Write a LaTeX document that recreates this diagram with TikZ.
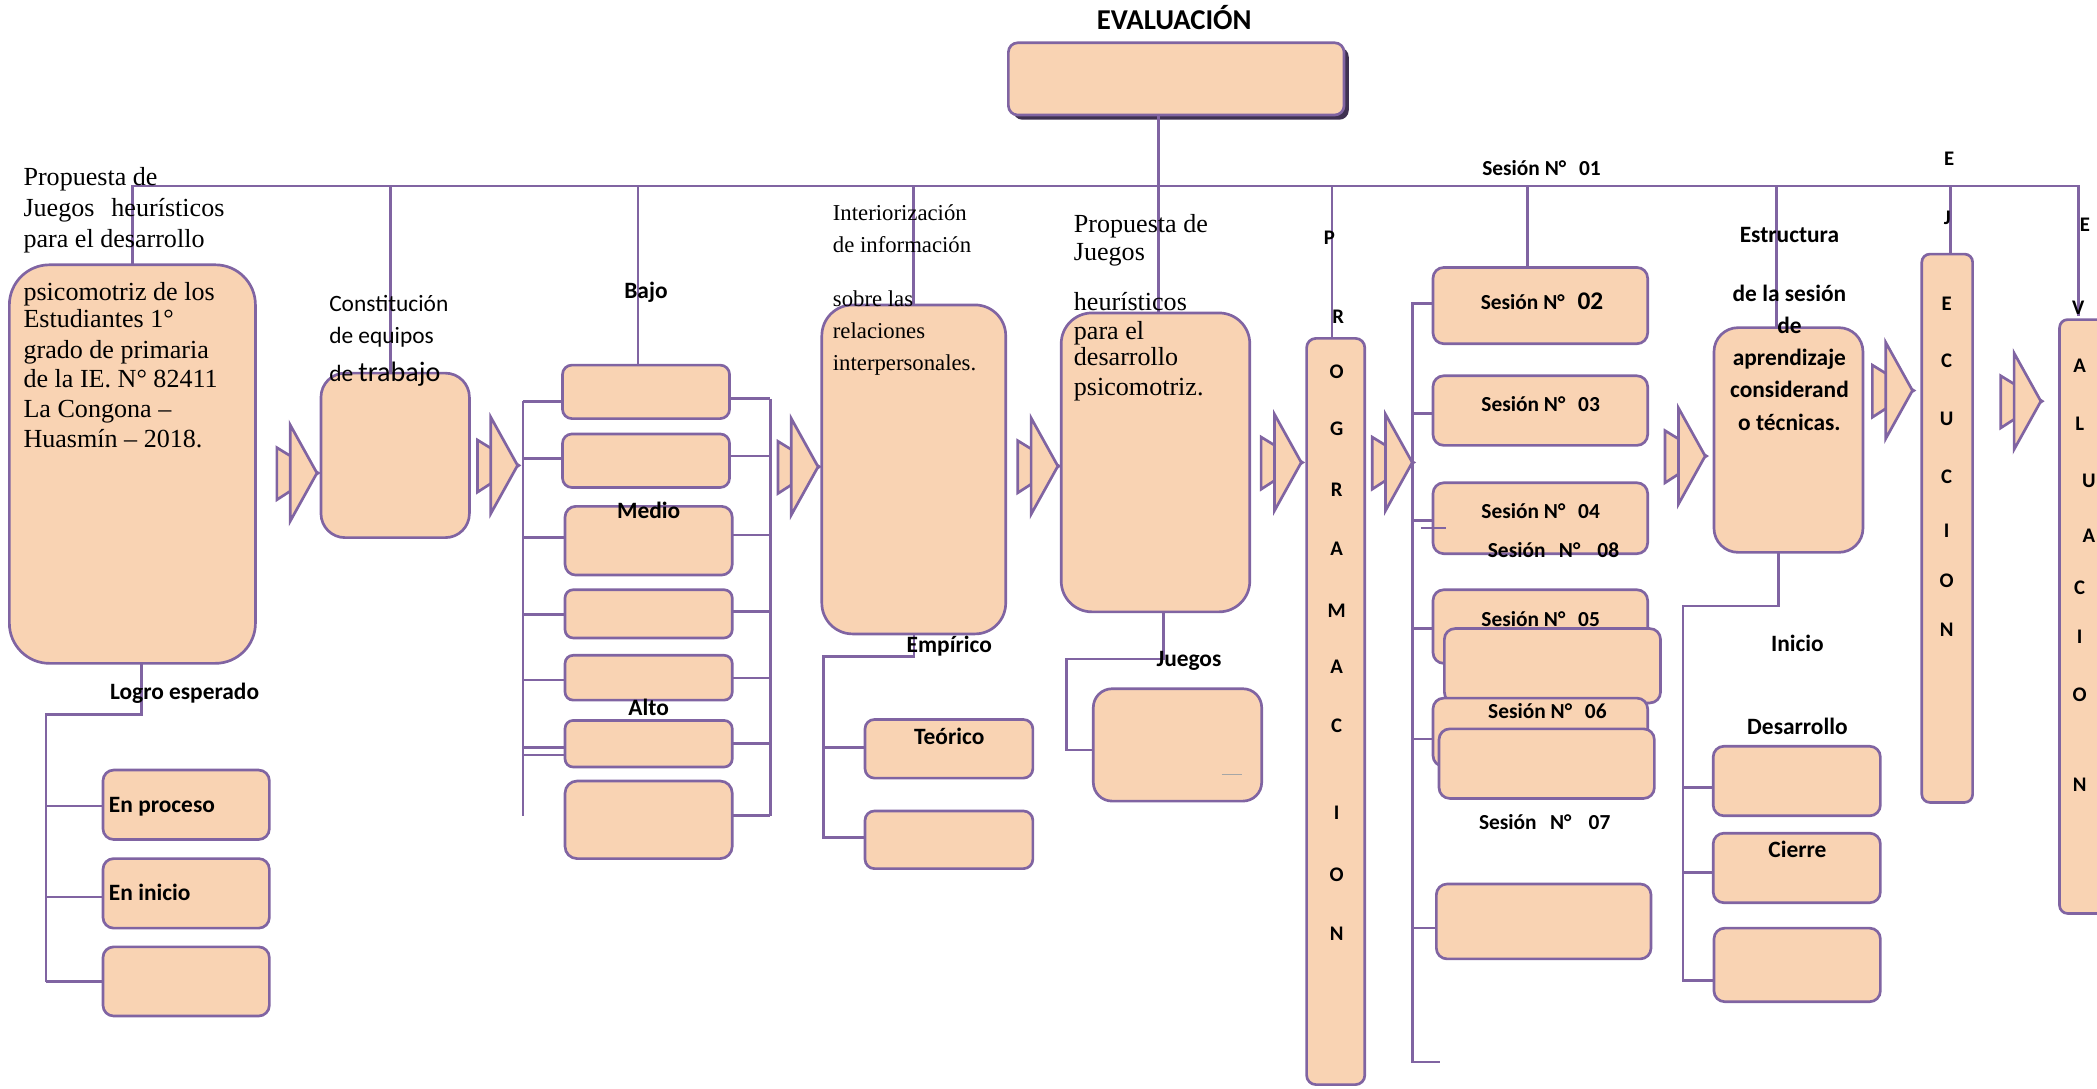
\documentclass[tikz,border=0pt]{standalone}
\usepackage{fontspec}
\setmainfont{Liberation Serif}
\newfontfamily\cb{Carlito}
\definecolor{pur}{HTML}{8064A2}
\definecolor{peach}{HTML}{F9D3B3}
\definecolor{shad}{HTML}{3F3151}
\tikzset{
 ln/.style={draw=pur, line width=2pt},
 thinln/.style={draw=pur, line width=1pt},
 box/.style={draw=pur, fill=peach, line width=2pt, inner sep=0pt, outer sep=0pt},
 lab/.style={inner sep=0pt, anchor=base, font=\cb\bfseries\fontsize{17.5}{20}\selectfont},
 ses/.style={inner sep=0pt, anchor=base, font=\cb\bfseries\fontsize{16}{18}\selectfont},
 let/.style={inner sep=0pt, anchor=base, font=\cb\bfseries\fontsize{15.5}{18}\selectfont},
 serA/.style={inner sep=0pt, anchor=base west, font=\fontsize{19.5}{22}\selectfont},
 serB/.style={inner sep=0pt, anchor=base west, font=\fontsize{17}{20}\selectfont},
 calr/.style={inner sep=0pt, anchor=base west, font=\cb\fontsize{17.5}{20}\selectfont},
 arrowshape/.style={draw=pur, fill=peach, line width=2pt, line join=miter}
}
\newcommand\rbox[6]{\pgfmathsetmacro\rbw{#4-#2}\pgfmathsetmacro\rbh{#5-#3}%
 \node[box,anchor=north west,minimum width=\rbw pt,minimum height=\rbh pt,rounded corners=#6pt] (#1) at (#2,#3) {};}
\newcommand\arr[2]{%
 \path[arrowshape] (#1-10,#2-19) -- (#1-10,#2+20) -- (#1+21,#2) -- cycle;
 \path[arrowshape] (#1,#2-36) -- (#1,#2+36) -- (#1+20,#2) -- cycle;}
\begin{document}
\begin{tikzpicture}[x=1pt,y=-1pt]
\useasboundingbox (0,0) rectangle (1568,814);
\clip (0,0) rectangle (1568,814);
% ---------- boxes ----------
\fill[shad, rounded corners=7pt] (757.5,35.5) rectangle (1008.5,89.5);
\rbox{ev}{754}{32}{1005}{86}{7}
\rbox{box1}{7}{198}{191}{496}{30}
\rbox{box2}{240}{279}{351}{402}{18}
\rbox{c1}{420.6}{273}{545.5}{313}{7}
\rbox{c2}{420.6}{324.5}{545.5}{364.5}{7}
\rbox{c3}{422.5}{378.6}{547.5}{430}{8}
\rbox{c4}{422.5}{441}{547.5}{477}{6}
\rbox{c5}{422.5}{490}{547.5}{523.5}{6}
\rbox{c6}{422.5}{538.7}{547.5}{573.5}{6}
\rbox{c7}{422.5}{584}{547.5}{642}{9}
\rbox{p1}{77}{575.8}{201.4}{627.7}{8}
\rbox{p2}{77}{642}{201.4}{694}{8}
\rbox{p3}{77}{708}{201.4}{759.7}{8}
\rbox{intb}{614.5}{228}{752}{474}{23}
\rbox{te1}{646.8}{538}{772.3}{581.8}{7}
\rbox{te2}{646.8}{606.4}{772.3}{649.5}{7}
\rbox{prop}{793.5}{234}{934.5}{457.5}{23}
\rbox{jb}{817.5}{515}{943.4}{599}{14}
\rbox{prog}{977}{253}{1020.5}{811}{7}
\rbox{s02}{1071.5}{200}{1232}{257}{8}
\rbox{s03}{1071.5}{281}{1232}{333}{8}
\rbox{s04}{1071.5}{361}{1232}{414}{8}
\rbox{s05}{1071.5}{441}{1232}{496}{8}
\rbox{sA}{1080}{470}{1241.6}{525.6}{8}
\rbox{s06}{1071.5}{522}{1232}{573}{8}
\rbox{sB}{1076}{545}{1237}{597}{8}
\rbox{s07}{1074}{661}{1234.5}{717}{8}
\rbox{est}{1281.6}{245}{1393}{413}{18}
\rbox{d1}{1281}{558}{1406}{610}{8}
\rbox{d2}{1281}{623}{1406}{675}{8}
\rbox{d3}{1281.6}{694}{1406}{749}{8}
\rbox{ec}{1437}{190}{1475}{600}{6}
\rbox{evr}{1540}{239}{1585}{683}{6}
% ---------- arrows ----------
\arr{217}{353.7}
\arr{367}{348}
\arr{591.7}{349}
\arr{771}{348.5}
\arr{953}{345.8}
\arr{1036}{345.8}
\arr{1255}{341}
\arr{1410}{292}
\arr{1506}{300}
% ---------- connectors ----------
\coordinate (tl) at (99,139);
\coordinate (tr) at (1554,139);
\coordinate (rv) at (1554,236);
\draw[ln] (box1.north) -- (tl) -- (tr) -- (rv);
\draw[ln] (292,139) -- (292,0 |- box2.north);
\draw[ln] (477,139) -- (477,0 |- c1.north);
\draw[ln] (683,139) -- (683,0 |- intb.north);
\draw[ln] (866,0 |- ev.south) -- (866,0 |- prop.north);
\draw[ln] (996,139) -- (996,0 |- prog.north);
\draw[ln] (1142,139) -- (1142,0 |- s02.north);
\draw[ln] (1328.5,139) -- (1328.5,0 |- est.north);
\draw[ln] (1458.5,139) -- (1458.5,0 |- ec.north);
% box1 branch
\coordinate (b1a) at (105.7,534);
\coordinate (b1b) at (34.3,734);
\draw[ln] (b1a |- box1.south) -- (b1a) -| (b1b);
\draw[ln] (34.3,602.7) -- (p1.west |- 0,602.7);
\draw[ln] (34.3,670.7) -- (p2.west |- 0,670.7);
\draw[ln] (b1b) -- (p3.west |- b1b);
% column 3 buses
\coordinate (lbt) at (391,300);
\coordinate (lbb) at (391,610);
\coordinate (rbt) at (576,298);
\coordinate (rbb) at (576,610);
\draw[ln] (lbt) -- (lbb);
\draw[ln] (rbt) -- (rbb);
\foreach \n/\y in {c1/300,c2/343,c3/402,c4/459.5,c5/508.5,c6/558.8}
  \draw[ln] (391,\y) -- (\n.west |- 0,\y);
\draw[thinln] (391,564.5) -- (c6.west |- 0,564.5);
\foreach \n/\y in {c1/298,c2/341,c3/400,c4/457,c5/507,c6/556,c7/610}
  \draw[ln] (\n.east |- 0,\y) -- (576,\y);
% column 4 branch
\coordinate (i4a) at (683.5,491);
\coordinate (i4b) at (615.5,626);
\draw[ln] (i4a |- intb.south) -- (i4a) -| (i4b) -- (te2.west |- i4b);
\draw[ln] (615.5,558.8) -- (te1.west |- 0,558.8);
% juegos branch
\coordinate (j5a) at (869.8,492.8);
\coordinate (j5b) at (797.6,560.8);
\draw[ln] (j5a |- prop.south) -- (j5a) -| (j5b) -- (jb.west |- j5b);
\draw[draw=gray!70, line width=1pt] (913.5,579) -- (928.4,579);
% sessions bus
\coordinate (sbt) at (1056,227);
\coordinate (sbb) at (1056,794);
\draw[ln] (s02.west |- sbt) -- (sbt) -- (sbb) -- (1077,794);
\foreach \n/\y in {s03/309,s04/389,s05/470,s06/552.6,s07/694}
  \draw[ln] (1056,\y) -- (\n.west |- 0,\y);
\draw[draw=pur, line width=1.5pt] (1062.5,395) -- (1081,395);
% estructura branch
\coordinate (e7a) at (1330,453);
\coordinate (e7b) at (1258.5,733);
\draw[ln] (e7a |- est.south) -- (e7a) -| (e7b) -- (d3.west |- e7b);
\draw[ln] (1258.5,588.6) -- (d1.west |- 0,588.6);
\draw[ln] (1258.5,652.5) -- (d2.west |- 0,652.5);
% ---------- texts ----------
\node[lab, font=\cb\bfseries\fontsize{21.5}{24}\selectfont] (tEv) at (878,22) {EVALUACIÓN};
\node[serA] (tb1) at (17.4,139) {Propuesta de};
\node[serA] (tb2) at (17.4,162) {Juegos\hspace{0.4em} heurísticos};
\node[serA] (tb3) at (17.4,185) {para el desarrollo};
\node[serA] (tb4) at (17.4,224.5) {psicomotriz de los};
\node[serA] (tb5) at (17.4,245) {Estudiantes 1°};
\node[serA] (tb6) at (17.4,268) {grado de primaria};
\node[serA] (tb7) at (17.4,290) {de la IE. N° 82411};
\node[serA] (tb8) at (17.4,312.5) {La Congona –};
\node[serA] (tb9) at (17.4,334.5) {Huasmín – 2018.};
\node[calr] (tc1) at (246,233) {Constitución};
\node[calr] (tc2) at (246,257) {de equipos};
\node[calr] (tc3) at (246,285) {de {\fontsize{21}{22}\selectfont trabajo}};
\node[lab] (tBajo) at (483,223) {Bajo};
\node[lab] (tMedio) at (485,388) {Medio};
\node[lab] (tAlto) at (485,535) {Alto};
\node[lab] (tLogro) at (138,523) {Logro esperado};
\node[lab, anchor=base west] (tProc) at (81.3,607.5) {En proceso};
\node[lab, anchor=base west] (tIni) at (81.3,673) {En inicio};
\node[serB] (ti1) at (622.6,165) {Interiorización};
\node[serB] (ti2) at (622.6,189) {de información};
\node[serB] (ti3) at (622.6,229.5) {sobre las};
\node[serB] (ti4) at (622.6,253) {relaciones};
\node[serB] (ti5) at (622.6,277) {interpersonales.};
\node[lab] (tEmp) at (709.8,488) {Empírico};
\node[lab] (tTeo) at (709.8,557) {Teórico};
\node[serA] (tp1) at (802.8,174) {Propuesta de};
\node[serA] (tp2) at (802.8,195) {Juegos};
\node[serA] (tp3) at (802.8,232.5) {heurísticos};
\node[serA] (tp4) at (802.8,254) {para el};
\node[serA] (tp5) at (802.8,273) {desarrollo};
\node[serA] (tp6) at (802.8,295.7) {psicomotriz.};
\node[lab] (tJue) at (889,498) {Juegos};
\node[let] (tP) at (994,182.6) {P};
\node[let] (tR) at (1000.7,242) {R};
\foreach \c/\y [count=\i] in {O/277.7,G/321,R/365.9,A/410,M/456.8,A/498.7,C/542.9,I/608,O/653.9,N/698}
  \node[let] (pg\i) at (999.5,\y+5) {\c};
\node[ses] (ts01) at (1152.6,131.5) {Sesión N°\hspace{0.6em}01};
\node[ses] (ts02) at (1153,231.5) {Sesión N°\hspace{0.6em}{\fontsize{19}{20}\selectfont 02}};
\node[ses] (ts03) at (1152,307.5) {Sesión N°\hspace{0.6em}03};
\node[ses] (ts04) at (1152,387.5) {Sesión N°\hspace{0.6em}04};
\node[ses] (ts08) at (1161.6,416.5) {Sesión\hspace{0.4em} N°\hspace{0.8em}08};
\node[ses] (ts05) at (1152,468.5) {Sesión N°\hspace{0.6em}05};
\node[ses] (ts06) at (1157,537.5) {Sesión N°\hspace{0.6em}06};
\node[ses] (ts07) at (1155,620) {Sesión\hspace{0.4em} N°\hspace{0.8em}07};
\node[lab] (te1t) at (1338,181.5) {Estructura};
\node[lab] (te2t) at (1338,225.5) {de la sesión};
\node[lab] (te3t) at (1338,249) {de};
\node[lab] (te4t) at (1338,273.5) {aprendizaje};
\node[lab] (te5t) at (1338,297.5) {considerand};
\node[lab] (te6t) at (1338,322) {o técnicas.};
\node[lab] (tIn) at (1344,487) {Inicio};
\node[lab] (tDe) at (1344,549.5) {Desarrollo};
\node[lab] (tCi) at (1344,641.5) {Cierre};
\node[let] (tE1) at (1457.4,124) {E};
\node[let] (tJ) at (1456,167.8) {J};
\foreach \c/\y [count=\i] in {E/227,C/269.6,U/313.5,C/356.6,I/396.7,O/434,N/471}
  \node[let] (ecl\i) at (1455.6,\y+5) {\c};
\node[let] (tE2) at (1559,173) {E};
\node[let] (tV) at (1554,235) {V};
\foreach \c/\x/\y [count=\i] in {A/1555/273.4,L/1555/316.6,U/1562/359.7,A/1562/400.5,C/1555/439.7,I/1555/476,O/1555/519.8,N/1555/586.7}
  \node[let] (evl\i) at (\x,\y+5) {\c};
\end{tikzpicture}
\end{document}
